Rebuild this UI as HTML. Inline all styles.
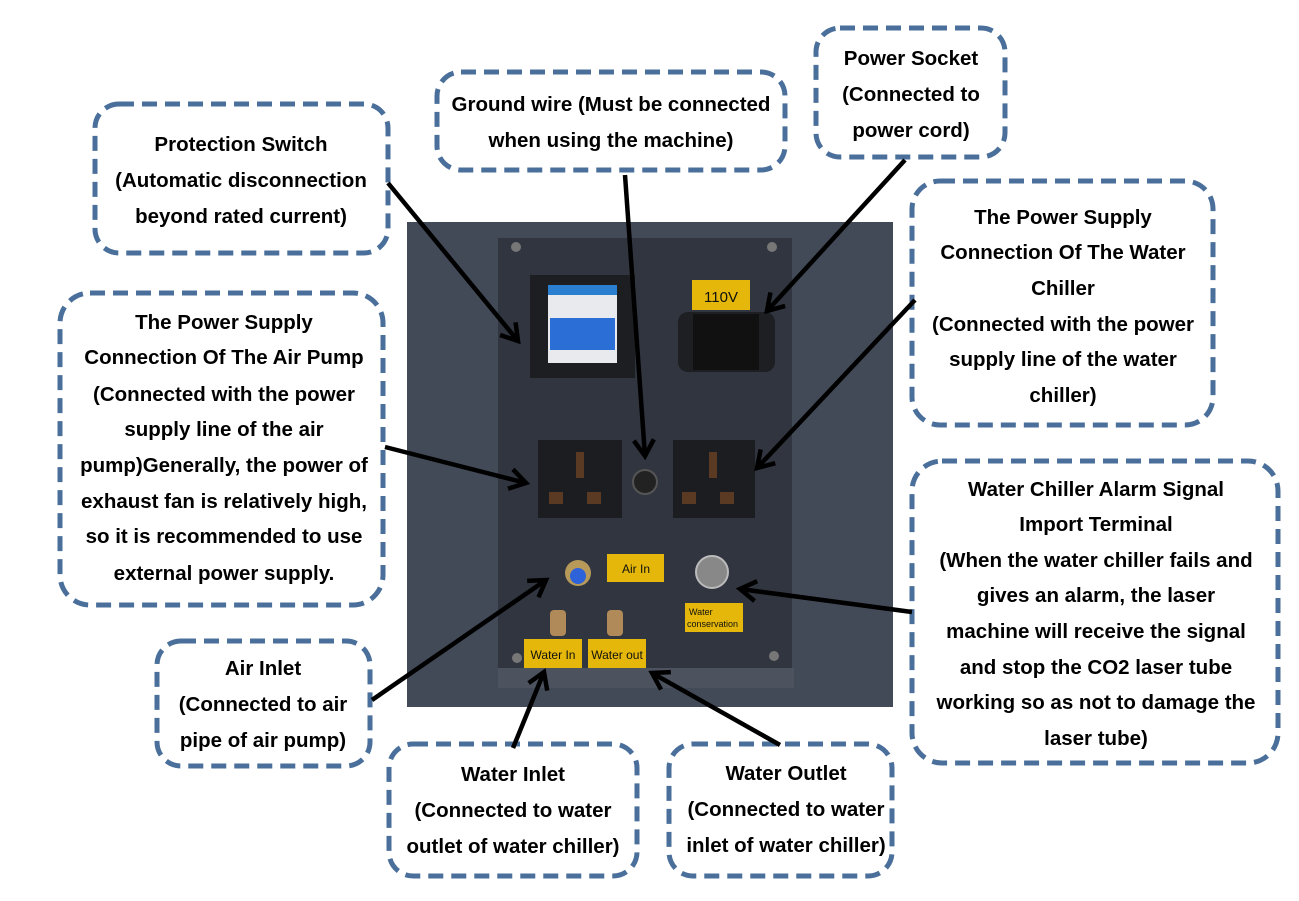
<!DOCTYPE html>
<html><head><meta charset="utf-8"><style>
html,body{margin:0;padding:0;background:#fff;}
svg{display:block;}
text{font-family:"Liberation Sans",Arial,sans-serif;font-weight:bold;font-size:20.5px;fill:#000;}
.lb{font-weight:normal;font-size:12px;fill:#111;}
</style></head><body>
<svg width="1299" height="901" viewBox="0 0 1299 901" xmlns="http://www.w3.org/2000/svg">
<defs>
<marker id="ah" markerWidth="22" markerHeight="24" refX="18" refY="12" orient="auto" markerUnits="userSpaceOnUse" viewBox="0 0 22 24">
<path d="M2,2 L18,12 L2,22" fill="none" stroke="#000" stroke-width="4.5"/>
</marker>
</defs>
<!-- panel -->
<rect x="407" y="222" width="486" height="485" fill="#434a57"/>
<rect x="498" y="238" width="294" height="432" fill="#30353f"/>
<rect x="498" y="668" width="296" height="20" fill="#4c535f"/>
<circle cx="516" cy="247" r="5" fill="#777"/><circle cx="772" cy="247" r="5" fill="#777"/>
<circle cx="517" cy="658" r="5" fill="#777"/><circle cx="774" cy="656" r="5" fill="#777"/>
<!-- breaker -->
<rect x="530" y="275" width="105" height="103" fill="#1c1e22"/>
<rect x="548" y="285" width="69" height="78" fill="#e8eaee"/>
<rect x="548" y="285" width="69" height="10" fill="#2a7fd0"/>
<rect x="550" y="318" width="65" height="32" fill="#2b6fd6"/>
<!-- 110V -->
<rect x="692" y="280" width="58" height="30" fill="#e4b70a"/>
<text x="721" y="302" text-anchor="middle" class="lb" style="font-size:15px">110V</text>
<rect x="678" y="312" width="97" height="60" rx="10" fill="#1d1f23"/>
<rect x="693" y="314" width="66" height="56" fill="#111"/>
<!-- sockets -->
<rect x="538" y="440" width="84" height="78" fill="#1c1d20"/>
<rect x="673" y="440" width="82" height="78" fill="#1c1d20"/>
<g fill="#5a3a22">
<rect x="576" y="452" width="8" height="26"/><rect x="549" y="492" width="14" height="12"/><rect x="587" y="492" width="14" height="12"/>
<rect x="709" y="452" width="8" height="26"/><rect x="682" y="492" width="14" height="12"/><rect x="720" y="492" width="14" height="12"/>
</g>
<circle cx="645" cy="482" r="12" fill="#222" stroke="#555" stroke-width="2"/>
<!-- lower -->
<circle cx="578" cy="573" r="13" fill="#b79a5a"/><circle cx="578" cy="576" r="8" fill="#2d62d8"/>
<rect x="607" y="554" width="57" height="28" fill="#e4b70a"/>
<text x="636" y="573" text-anchor="middle" class="lb">Air In</text>
<circle cx="712" cy="572" r="16" fill="#888" stroke="#bbb" stroke-width="2"/>
<rect x="685" y="603" width="58" height="29" fill="#e4b70a"/>
<text x="689" y="615" class="lb" style="font-size:9px">Water</text>
<text x="687" y="627" class="lb" style="font-size:9px">conservation</text>
<rect x="550" y="610" width="16" height="26" rx="4" fill="#b08a58"/>
<rect x="607" y="610" width="16" height="26" rx="4" fill="#b08a58"/>
<rect x="524" y="639" width="58" height="29" fill="#e4b70a"/>
<text x="553" y="659" text-anchor="middle" class="lb">Water In</text>
<rect x="588" y="639" width="58" height="29" fill="#e4b70a"/>
<text x="617" y="659" text-anchor="middle" class="lb">Water out</text>
<!-- boxes -->
<g fill="#fff" stroke="#4a6f9a" stroke-width="5" stroke-dasharray="15 8">
<rect x="95" y="104" width="293" height="149" rx="24"/>
<rect x="437" y="72" width="348" height="98" rx="24"/>
<rect x="816" y="28" width="189" height="129" rx="24"/>
<rect x="912" y="181" width="301" height="244" rx="28"/>
<rect x="60" y="293" width="323" height="312" rx="30"/>
<rect x="912" y="461" width="366" height="302" rx="30"/>
<rect x="157" y="641" width="213" height="125" rx="24"/>
<rect x="389" y="744" width="248" height="132" rx="24"/>
<rect x="669" y="744" width="223" height="132" rx="24"/>
</g>
<!-- arrows -->
<g stroke="#000" stroke-width="4.5" marker-end="url(#ah)">
<line x1="388" y1="183" x2="518" y2="341"/>
<line x1="625" y1="175" x2="645" y2="456"/>
<line x1="905" y1="160" x2="767" y2="311"/>
<line x1="915" y1="300" x2="757" y2="468"/>
<line x1="385" y1="447" x2="526" y2="483"/>
<line x1="372" y1="700" x2="546" y2="580"/>
<line x1="513" y1="748" x2="544" y2="672"/>
<line x1="780" y1="745" x2="652" y2="673"/>
<line x1="912" y1="612" x2="740" y2="589"/>
</g>
<!-- text -->
<g text-anchor="middle">
<text x="241" y="151">Protection Switch</text>
<text x="241" y="187">(Automatic disconnection</text>
<text x="241" y="223">beyond rated current)</text>
<text x="611" y="111">Ground wire (Must be connected</text>
<text x="611" y="147">when using the machine)</text>
<text x="911" y="65">Power Socket</text>
<text x="911" y="101">(Connected to</text>
<text x="911" y="137">power cord)</text>
<text x="1063" y="224">The Power Supply</text>
<text x="1063" y="259">Connection Of The Water</text>
<text x="1063" y="295">Chiller</text>
<text x="1063" y="331">(Connected with the power</text>
<text x="1063" y="366">supply line of the water</text>
<text x="1063" y="402">chiller)</text>
<text x="224" y="329">The Power Supply</text>
<text x="224" y="364">Connection Of The Air Pump</text>
<text x="224" y="401">(Connected with the power</text>
<text x="224" y="436">supply line of the air</text>
<text x="224" y="472">pump)Generally, the power of</text>
<text x="224" y="508">exhaust fan is relatively high,</text>
<text x="224" y="543">so it is recommended to use</text>
<text x="224" y="580">external power supply.</text>
<text x="1096" y="496">Water Chiller Alarm Signal</text>
<text x="1096" y="531">Import Terminal</text>
<text x="1096" y="567">(When the water chiller fails and</text>
<text x="1096" y="602">gives an alarm, the laser</text>
<text x="1096" y="638">machine will receive the signal</text>
<text x="1096" y="674">and stop the CO2 laser tube</text>
<text x="1096" y="709">working so as not to damage the</text>
<text x="1096" y="745">laser tube)</text>
<text x="263" y="675">Air Inlet</text>
<text x="263" y="711">(Connected to air</text>
<text x="263" y="747">pipe of air pump)</text>
<text x="513" y="781">Water Inlet</text>
<text x="513" y="817">(Connected to water</text>
<text x="513" y="853">outlet of water chiller)</text>
<text x="786" y="780">Water Outlet</text>
<text x="786" y="816">(Connected to water</text>
<text x="786" y="852">inlet of water chiller)</text>
</g>
</svg>
</body></html>
